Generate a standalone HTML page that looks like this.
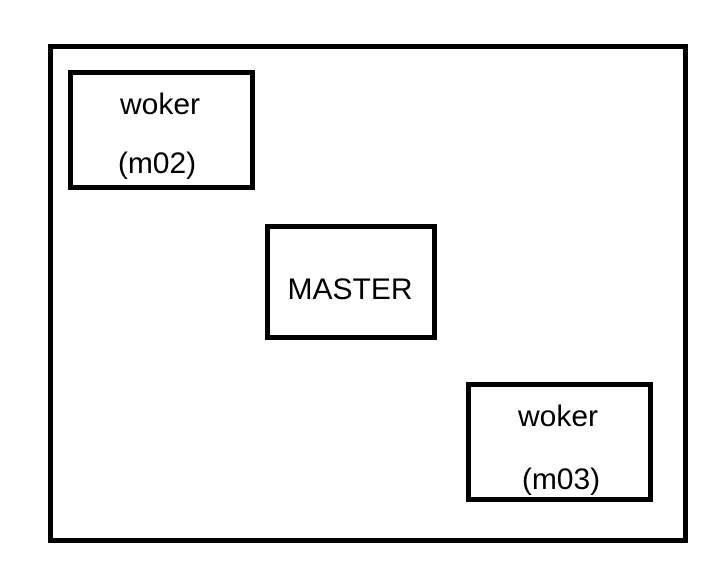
<!DOCTYPE html>
<html><head><style>html,body{margin:0;padding:0;background:#fff;}svg{display:block}</style></head>
<body>
<svg width="727" height="579" xmlns="http://www.w3.org/2000/svg">
<rect x="0" y="0" width="727" height="579" fill="#fff"/>
<g fill="none" stroke="#000" stroke-width="5">
<rect x="50.5" y="46.5" width="635" height="494"/>
<rect x="70.5" y="72.5" width="182" height="115"/>
<rect x="267.5" y="226.5" width="167" height="111"/>
<rect x="468.5" y="384.5" width="182" height="115"/>
</g>
<g font-family="'Liberation Sans', sans-serif" font-size="30" fill="#000" text-anchor="middle">
<text x="160" y="114">woker</text>
<text x="157" y="173">(m02)</text>
<text x="350" y="299">MASTER</text>
<text x="558" y="426">woker</text>
<text x="561" y="489">(m03)</text>
</g>
</svg>
</body></html>
